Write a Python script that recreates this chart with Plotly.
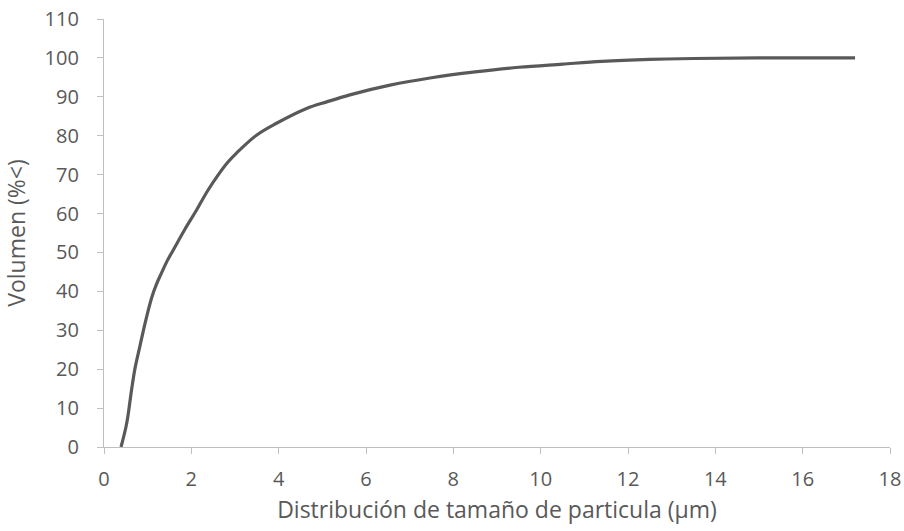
import plotly.graph_objects as go

size_um = [0.39, 0.52, 0.63, 0.71, 0.82, 0.94, 1.09, 1.2, 1.32, 1.45, 1.59, 1.85, 2.12, 2.37, 2.62,
           2.83, 3.04, 3.50, 3.95, 4.64, 5.1, 5.63, 6.55, 7.5, 8.5, 9.5, 10.5, 11.4, 12.5, 13.5,
           15.0, 17.2]
volume_pct = [0, 6.1, 14.6, 20.2, 25.8, 31.8, 38.3, 41.8, 44.8, 47.9, 50.7, 55.9, 60.9, 65.8, 70.0,
              73.1, 75.6, 80.2, 83.2, 87.0, 88.7, 90.5, 93.0, 94.9, 96.4, 97.6, 98.4, 99.1, 99.6, 99.85,
              100, 100]

x_ticks = list(range(0, 19, 2))
y_ticks = list(range(0, 111, 10))

fig = go.Figure()
fig.add_trace(go.Scatter(
    x=size_um, y=volume_pct, mode="lines",
    line=dict(color="#595959", width=3.2, shape="spline", smoothing=1.0),
    showlegend=False, hoverinfo="skip"))

axis_common = dict(
    showgrid=False, zeroline=False, showline=True, linecolor="#bfbfbf", linewidth=1.3,
    ticks="outside", tickcolor="#bfbfbf", ticklen=6, tickwidth=1.3,
    tickfont=dict(family="Open Sans", size=20, color="#595959"),
    automargin=False,
)

fig.update_layout(
    width=904, height=531,
    margin=dict(l=104, r=14, t=19, b=84),
    paper_bgcolor="white", plot_bgcolor="white",
    xaxis=dict(range=[0, 18], tickvals=x_ticks, ticklabelstandoff=8,
               title=dict(text="Distribución de tamaño de particula (µm)",
                          font=dict(family="Open Sans", size=23, color="#595959"), standoff=10),
               **axis_common),
    yaxis=dict(range=[0, 110], tickvals=y_ticks, ticklabelstandoff=14,
               title=dict(text="Volumen (%<)",
                          font=dict(family="Open Sans", size=23, color="#595959"), standoff=16),
               **axis_common),
)

fig.write_html("out.html")
